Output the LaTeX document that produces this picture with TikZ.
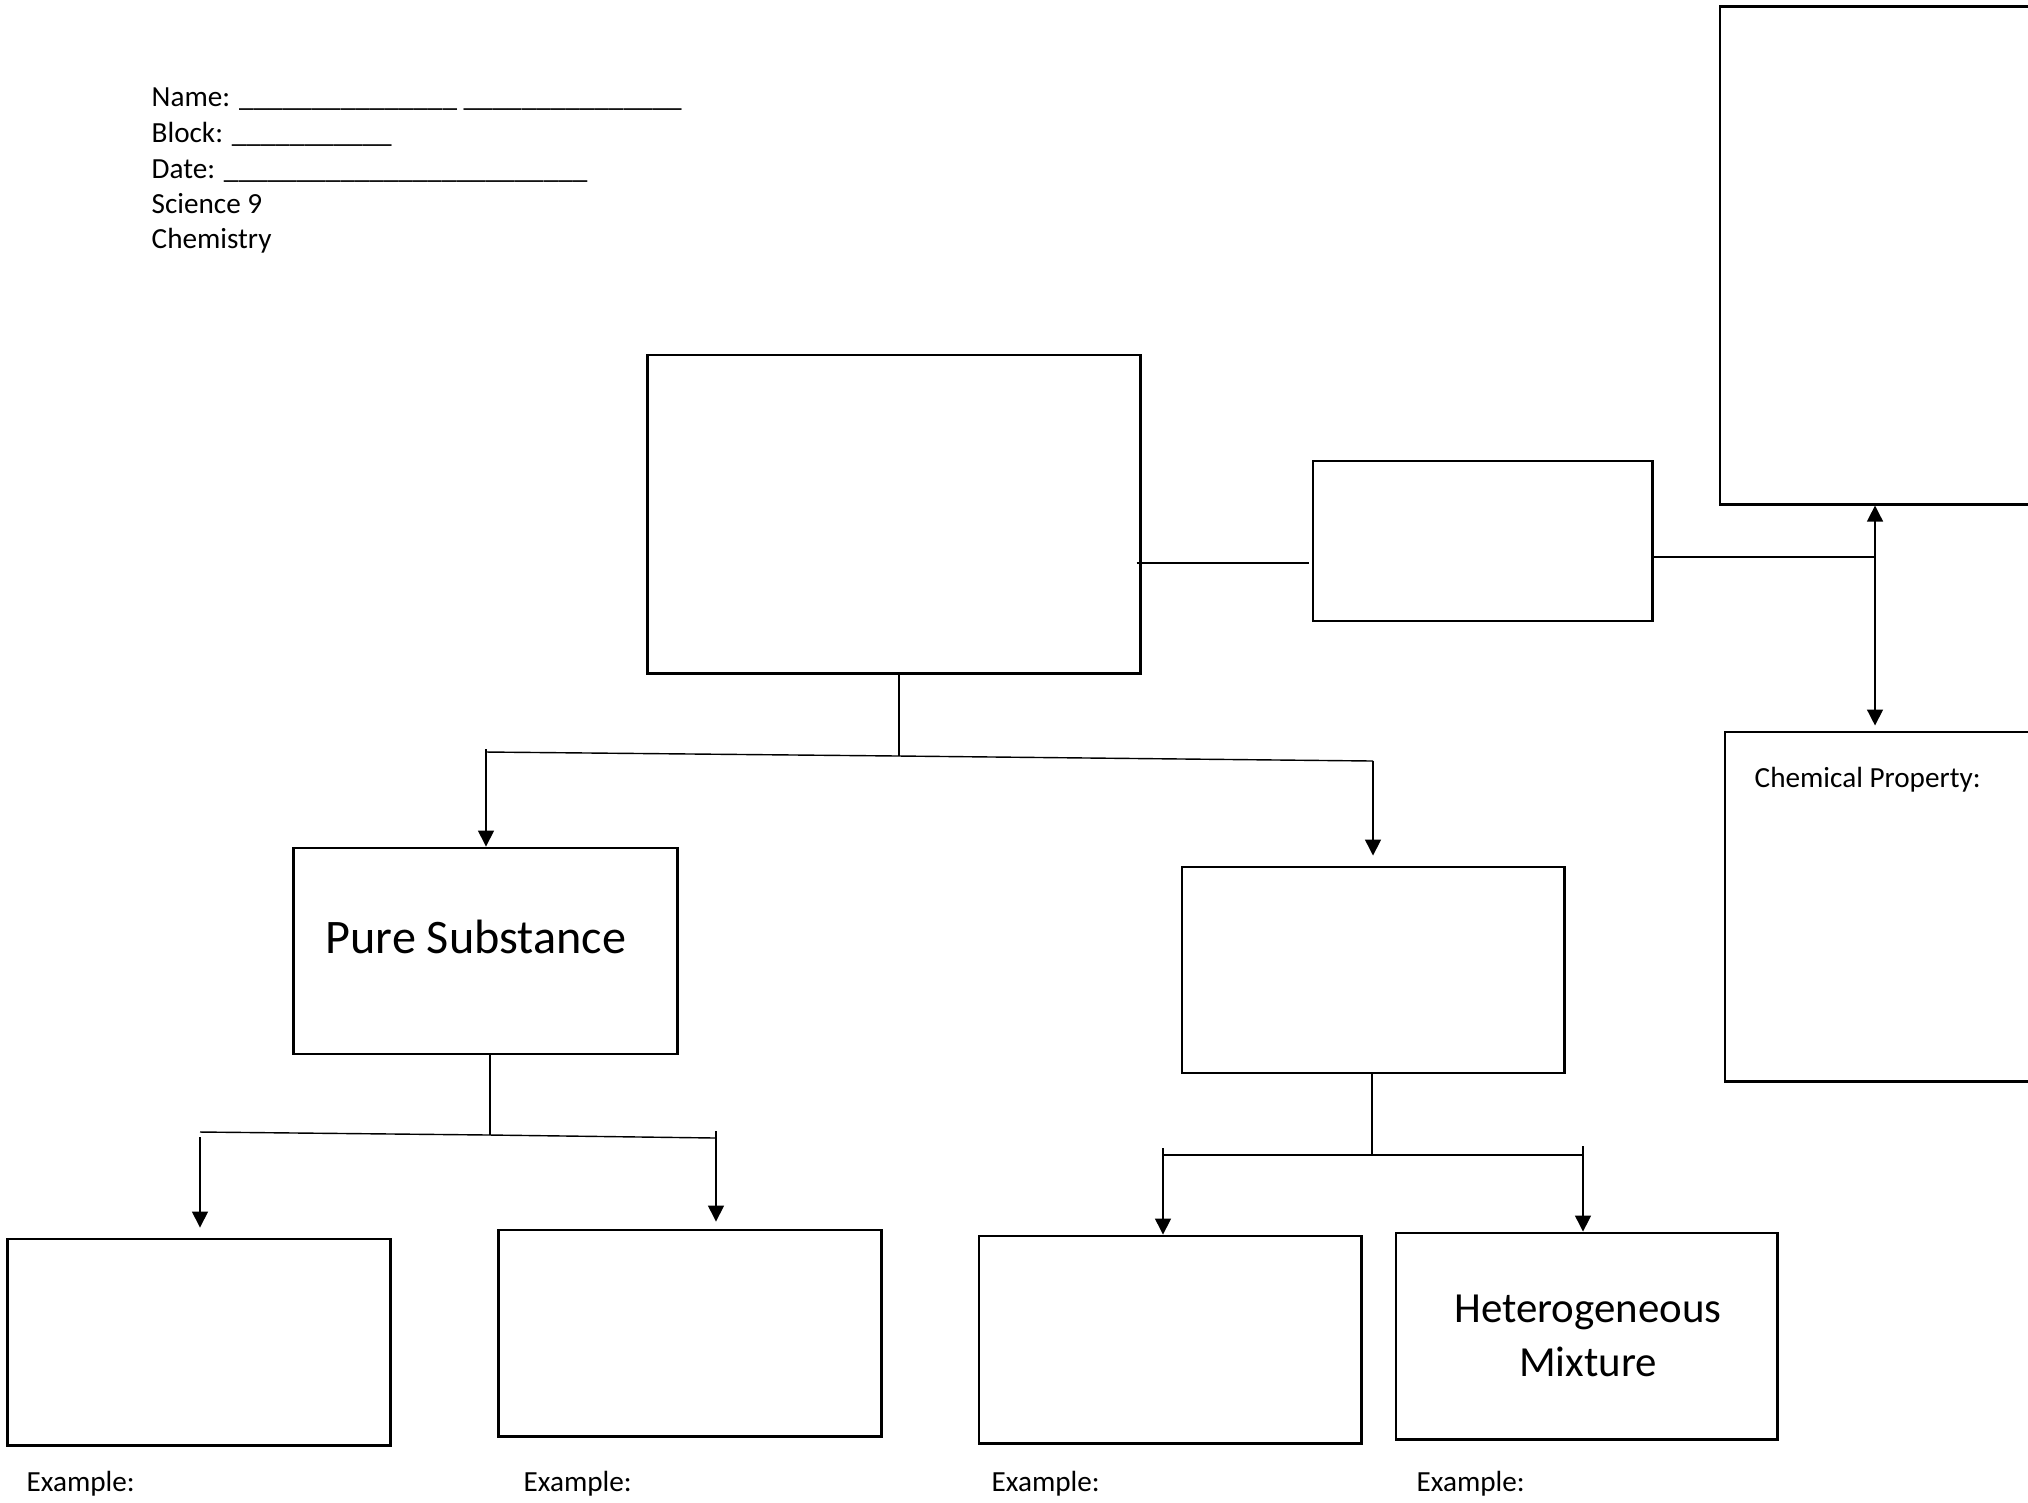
\documentclass[tikz,border=0pt]{standalone}
\usepackage{fontspec}
\setmainfont{Carlito}
\usetikzlibrary{arrows.meta}
\begin{document}
\begin{tikzpicture}[x=0.01cm,y=-0.01cm,
  box/.style={draw, line width=0.8pt, inner sep=0pt},
  conn/.style={line width=0.4pt},
  arr/.style={line width=0.4pt, -{Triangle[length=0.16cm,width=0.16cm]}},
  txt/.style={inner sep=0pt, anchor=base west, font=\fontsize{8.3pt}{10pt}\selectfont},
  big/.style={inner sep=0pt, font=\fontsize{12.2pt}{15pt}\selectfont}
]
\useasboundingbox (0,0) rectangle (2028,1502);
\fill[white] (0,0) rectangle (2028,1502);
\clip (0,0) rectangle (2028,1502);

% header
\node[txt] (h1) at (151,106) {Name: \_\_\_\_\_\_\_\_\_\_\_\_\_\_\_ \_\_\_\_\_\_\_\_\_\_\_\_\_\_\_};
\node[txt] (h2) at (151,142) {Block: \_\_\_\_\_\_\_\_\_\_\_};
\node[txt] (h3) at (151,178) {Date: \_\_\_\_\_\_\_\_\_\_\_\_\_\_\_\_\_\_\_\_\_\_\_\_\_};
\node[txt] (h4) at (151,213) {Science 9};
\node[txt] (h5) at (151,248) {Chemistry};

% boxes
\node[box, minimum width=4.92cm, minimum height=3.18cm] (main) at (894,514) {};
\node[box, minimum width=3.39cm, minimum height=1.60cm] (mid) at (1482.5,541) {};
\node[box, minimum width=4.00cm, minimum height=4.97cm] (top) at (1920,255.5) {};
\node[box, minimum width=3.95cm, minimum height=3.49cm] (chem) at (1922.5,906.5) {};
\node[box, minimum width=3.83cm, minimum height=2.06cm] (pure) at (485.5,951) {};
\node[box, minimum width=3.82cm, minimum height=2.06cm] (mix) at (1373,970) {};
\node[box, minimum width=3.82cm, minimum height=2.06cm] (bA) at (199,1342) {};
\node[box, minimum width=3.82cm, minimum height=2.06cm] (bB) at (690,1333) {};
\node[box, minimum width=3.82cm, minimum height=2.07cm] (bC) at (1170,1339.5) {};
\node[box, minimum width=3.81cm, minimum height=2.06cm] (bD) at (1586.5,1336) {};

% texts in boxes
\node[big, anchor=base west, font=\fontsize{13.7pt}{16pt}\selectfont] (tPure) at (325,953) {Pure Substance};
\node[big, anchor=base] (tHet) at (1588,1322) {Heterogeneous};
\node[big, anchor=base] (tMix) at (1588,1376) {Mixture};
\node[txt] (tChem) at (1754,787) {Chemical Property:};
\node[txt] (eA) at (26,1491) {Example:};
\node[txt] (eB) at (523,1491) {Example:};
\node[txt] (eC) at (991,1491) {Example:};
\node[txt] (eD) at (1416,1491) {Example:};

% junction coordinates
\coordinate (jm) at (1225,563);
\coordinate (t0) at (899,756);
\coordinate (tl) at (486,752);
\coordinate (tr) at (1373,761);
\coordinate (p0) at (490,1135);
\coordinate (pl) at (200,1132);
\coordinate (pr) at (716,1138);
\coordinate (m0) at (1372,1155);
\coordinate (ml) at (1163,1155);
\coordinate (mr) at (1583,1155);
\coordinate (r0) at (1875,557);

% main connectors
\draw[conn] ([xshift=-0.05cm]main.east |- jm) -- ([xshift=-0.03cm]mid.west |- jm);
\draw[conn] (main.south -| t0) -- (t0);
\draw[conn] (tl) -- (t0) -- (tr);
\draw[arr] ([yshift=0.03cm]tl) -- (tl |- pure.north);
\draw[arr] (tr) -- ([yshift=0.10cm]tr |- mix.north);

% pure substance branch
\draw[conn] (pure.south -| p0) -- (p0);
\draw[conn] (pl) -- (p0) -- (pr);
\draw[arr] ([yshift=-0.05cm]pl) -- ([yshift=0.10cm]pl |- bA.north);
\draw[arr] ([yshift=0.07cm]pr) -- ([yshift=0.07cm]pr |- bB.north);

% mixture branch
\draw[conn] (mix.south -| m0) -- (m0);
\draw[conn] (ml) -- (mr);
\draw[arr] ([yshift=0.07cm]ml) -- (ml |- bC.north);
\draw[arr] ([yshift=0.09cm]mr) -- (mr |- bD.north);

% right side
\draw[conn] (mid.east |- r0) -- (r0);
\draw[arr] ([yshift=-0.03cm]r0) -- (r0 |- top.south);
\draw[arr] ([yshift=0.05cm]r0) -- ([yshift=0.05cm]r0 |- chem.north);
\end{tikzpicture}
\end{document}
